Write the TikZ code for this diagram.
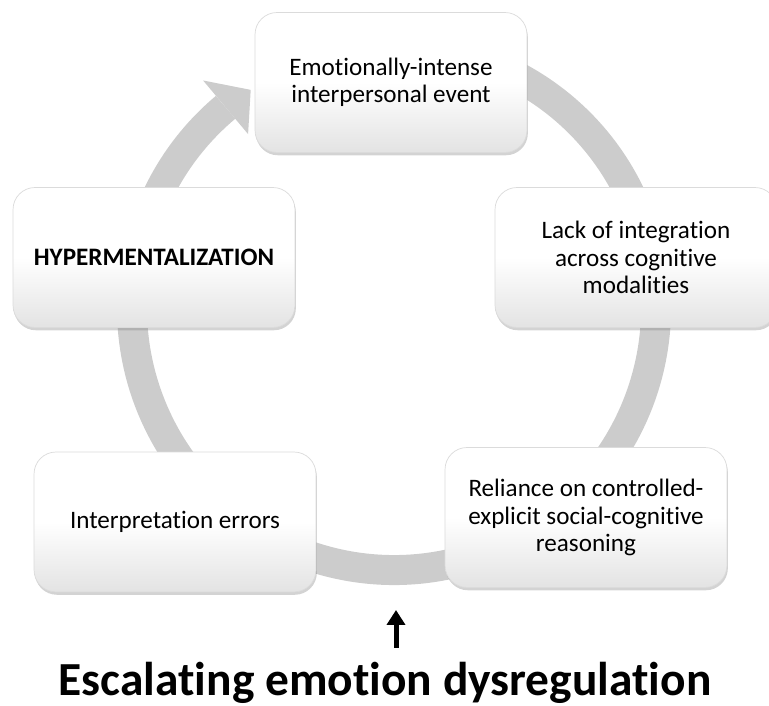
\documentclass[tikz,border=0pt]{standalone}
\usepackage{fontspec}
\setmainfont{Carlito}[Ligatures=NoCommon]
\usetikzlibrary{shadows}
\usetikzlibrary{arrows.meta}
\definecolor{ringgray}{RGB}{204,204,204}

\begin{document}
\begin{tikzpicture}[x=0.02cm,y=0.02cm,
    stage/.style={rectangle, rounded corners=0.44cm, draw=black!14, line width=0.4pt,
        top color=white, bottom color=black!11, middle color=white,
        minimum width=5.64cm, minimum height=2.8cm, align=center,
        font=\fontsize{14.3}{15.5}\selectfont,
        drop shadow={shadow xshift=0.5pt, shadow yshift=-1.6pt, opacity=0.35}},
    ring/.style={ringgray, line width=0.6cm},
    ]
        \useasboundingbox (0,0) rectangle (769,706);
        \coordinate (hub) at (394,398);
        \draw[ring] ([shift={(112:262)}]hub) arc[start angle=112, end angle=-230, radius=262];
        \fill[ringgray] ([shift={(130:297)}]hub) -- ([shift={(123.3:261)}]hub) -- ([shift={(130:227)}]hub) -- cycle;

        \node[stage, minimum width=5.44cm] (event) at (391,623.5) {Emotionally-intense\\interpersonal event};
        \node[stage] (integ) at (636,448.5) {Lack of integration\\across cognitive\\modalities};
        \node[stage] (reliance) at (586,188.5) {Reliance on controlled-\\explicit social-cognitive\\reasoning};
        \node[stage] (errors) at (175,184) {Interpretation errors};
        \node[stage, font=\fontsize{14.3}{15.5}\selectfont\bfseries] (hyper) at (154,448.5) {HYPERMENTALIZATION};

        \node[anchor=base, inner sep=0pt, font=\fontsize{27}{32}\selectfont\bfseries] (title) at (385,10) {Escalating emotion dysregulation};
        \coordinate (foot) at (396,58);
        \coordinate (rise) at (396,96);
        \draw [-{Triangle[width=0.36cm,length=0.3cm]}, line width=0.1cm] (foot) -- (rise);
    \end{tikzpicture}
\end{document}
